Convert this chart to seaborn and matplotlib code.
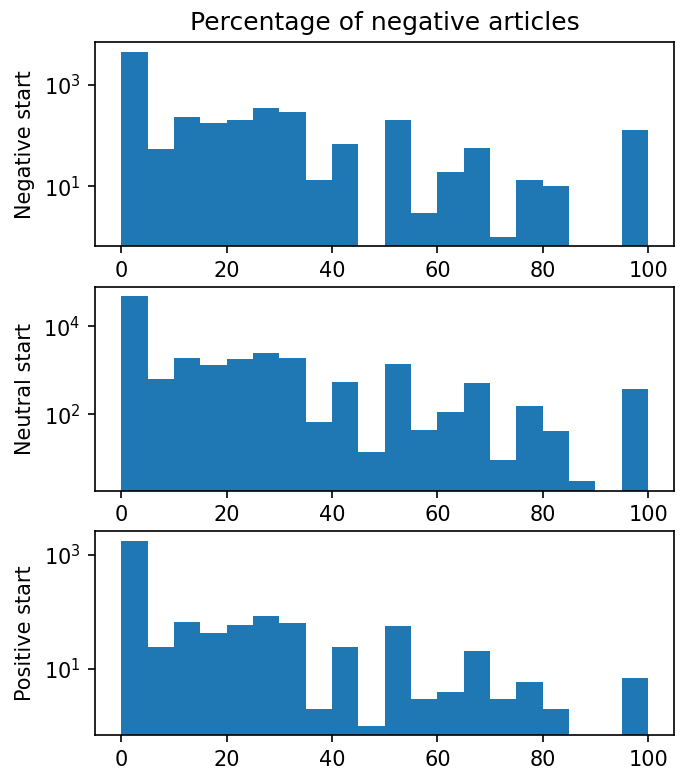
import numpy as np
import pandas as pd
import matplotlib
matplotlib.use("Agg")
import matplotlib.pyplot as plt
from matplotlib.ticker import FixedLocator, NullLocator
import seaborn as sns

bin_edges = list(range(0, 105, 5))
bin_centers = [e + 2.5 for e in bin_edges[:-1]]

negative_counts = [4470, 54, 230, 175, 204, 344, 284, 13, 68, 0,
                   200, 3, 19, 56, 1, 13, 10, 0, 0, 126]
neutral_counts = [48500, 645, 1950, 1320, 1790, 2450, 1950, 67, 540, 14,
                  1420, 44, 115, 510, 9, 156, 41, 3, 0, 372]
positive_counts = [1760, 24, 67, 42, 60, 85, 63, 2, 24, 1,
                   56, 3, 4, 21, 3, 6, 2, 0, 0, 7]

row_labels = ["Negative start", "Neutral start", "Positive start"]
y_ticks = [[10, 1000], [100, 10000], [10, 1000]]
title = "Percentage of negative articles"

fig, axes = plt.subplots(3, 1, figsize=(4.56, 5.16), dpi=150)
fig.subplots_adjust(left=0.139, right=0.986, top=0.9453, bottom=0.050, hspace=0.2)

for ax, counts, label, yt in zip(axes, [negative_counts, neutral_counts, positive_counts],
                                 row_labels, y_ticks):
    df = pd.DataFrame({"pct": bin_centers, "n": counts})
    ax.set_yscale("log")
    sns.histplot(data=df, x="pct", weights="n", bins=bin_edges, ax=ax,
                 color="#1f77b4", alpha=1.0, linewidth=0, stat="count")
    ax.yaxis.set_major_locator(FixedLocator(yt))
    ax.yaxis.set_minor_locator(NullLocator())
    ax.set_ylabel(label)
    ax.set_xlabel("")

axes[0].set_title(title)
fig.savefig("out.png", dpi=150)
